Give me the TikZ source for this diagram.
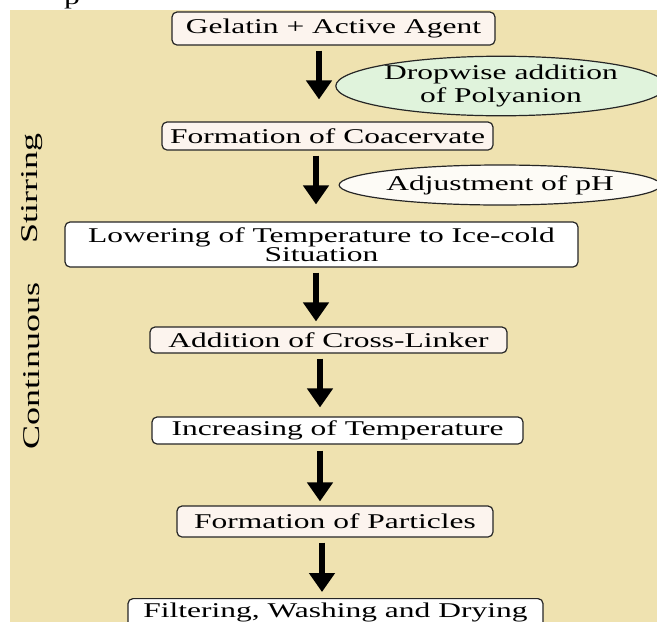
\documentclass[tikz,border=0pt]{standalone}
\usepackage{fontspec}
\setmainfont{Liberation Serif}[FakeStretch=1.5]
\usetikzlibrary{arrows.meta,shapes.geometric,calc}
\definecolor{bg}{HTML}{EFE2B0}
\definecolor{cream}{HTML}{FCF4EE}
\definecolor{mint}{HTML}{E0F3DC}
\definecolor{paleoval}{HTML}{FDFBF6}
\begin{document}
\begin{tikzpicture}[x=1pt,y=-1pt,
  every node/.style={font=\fontsize{21}{23}\selectfont, inner sep=0pt},
  stepbox/.style={draw=black!85, line width=1.2pt, rounded corners=5pt, align=center},
  oval/.style={ellipse, draw=black!85, line width=1.2pt, align=center},
  flow/.style={line width=5.5pt, -{Triangle[width=25pt,length=19pt]}},
  side/.style={rotate=90, font=\fontsize{24}{26}\selectfont},
]
\useasboundingbox (0,0) rectangle (657,622);
\fill[white] (0,0) rectangle (657,622);
\fill[bg] (10,10) rectangle (657,622);
\node[anchor=base] (ptop) at (72,4) {p};

\node[stepbox, fill=cream, minimum width=323, minimum height=33] (g1) at (333.5,28.5) {Gelatin + Active Agent};
\node[stepbox, fill=cream, minimum width=331, minimum height=28] (g2) at (327.5,136) {Formation of Coacervate};
\node[stepbox, fill=white, minimum width=513, minimum height=45, font=\fontsize{21}{19}\selectfont] (g3) at (321.5,244.5) {Lowering of Temperature to Ice-cold\\Situation};
\node[stepbox, fill=cream, minimum width=357, minimum height=26] (g4) at (328.5,340) {Addition of Cross-Linker};
\node[stepbox, fill=white, minimum width=371, minimum height=27] (g5) at (337.5,430.5) {Increasing of Temperature};
\node[stepbox, fill=cream, minimum width=316, minimum height=31] (g6) at (335,521.5) {Formation of Particles};
\node[stepbox, fill=white, anchor=north, minimum width=415, inner ysep=3pt, text height=16pt, text depth=14pt] (g7) at (335.5,598) {Filtering, Washing and Drying};

\node[oval, fill=mint, minimum width=308, minimum height=58] (e1) at (501,86) {Dropwise addition\\of Polyanion};
\node[oval, fill=paleoval, minimum width=310, minimum height=40] (e2) at (500,185) {Adjustment of pH};

\node[side] (cont) at (32,366) {Continuous};
\node[side] (stir) at (32,188.5) {Stirring};

\draw[flow] ($(g1.south)+(-14.5,5)$) -- ($(g2.north)+(-8.5,-22)$);
\draw[flow] ($(g2.south)+(-11.5,5)$) -- ($(g3.north)+(-5.5,-17)$);
\draw[flow] ($(g3.south)+(-5.5,5)$) -- ($(g4.north)+(-12.5,-5)$);
\draw[flow] ($(g4.south)+(-8.5,5)$) -- ($(g5.north)+(-17.5,-9)$);
\draw[flow] ($(g5.south)+(-17.5,6)$) -- ($(g6.north)+(-15,-4)$);
\draw[flow] ($(g6.south)+(-13,5)$) -- ($(g7.north)+(-13.5,-6)$);
\end{tikzpicture}
\end{document}
